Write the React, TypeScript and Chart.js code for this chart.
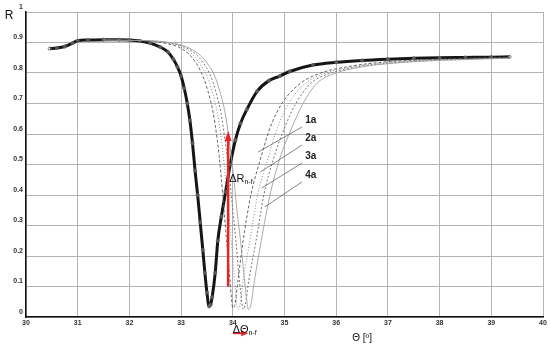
import React, { useEffect, useRef } from "react";
import { Chart, registerables } from "chart.js";

Chart.register(...registerables);

// Main measured curve (theta [deg], R)
const mainTheta = [30.46, 30.6, 30.75, 30.9, 31.0, 31.2, 31.5, 31.8, 32.0, 32.2, 32.4, 32.6, 32.75, 32.85, 32.93, 33.0, 33.06, 33.12, 33.17, 33.22, 33.27, 33.32, 33.37, 33.42, 33.46, 33.5, 33.54, 33.57, 33.6, 33.66, 33.71, 33.78, 33.86, 33.95, 34.05, 34.15, 34.27, 34.47, 34.7, 34.91, 35.1, 35.55, 36.0, 36.5, 37.0, 37.5, 38.0, 38.5, 39.0, 39.35];
const mainR = [0.88, 0.882, 0.887, 0.898, 0.906, 0.908, 0.909, 0.909, 0.908, 0.905, 0.898, 0.885, 0.868, 0.845, 0.82, 0.79, 0.75, 0.7, 0.645, 0.57, 0.48, 0.4, 0.31, 0.22, 0.145, 0.08, 0.035, 0.04, 0.065, 0.145, 0.25, 0.33, 0.41, 0.5, 0.58, 0.635, 0.68, 0.74, 0.775, 0.79, 0.805, 0.826, 0.835, 0.841, 0.845, 0.848, 0.85, 0.851, 0.852, 0.853];

const theta1a = [31.5, 32.0, 32.4, 32.7, 32.95, 33.15, 33.3, 33.42, 33.52, 33.62, 33.7, 33.77, 33.83, 33.88, 33.93, 33.97, 34.0, 34.04, 34.1, 34.2, 34.35, 34.53, 34.72, 34.95, 35.3, 35.7, 36.2, 36.8, 37.5, 38.3, 39.0, 39.35];
const r1a = [0.908, 0.907, 0.904, 0.897, 0.885, 0.862, 0.83, 0.79, 0.74, 0.67, 0.58, 0.47, 0.35, 0.25, 0.15, 0.07, 0.03, 0.04, 0.12, 0.25, 0.4, 0.515, 0.62, 0.7, 0.765, 0.8, 0.82, 0.834, 0.842, 0.847, 0.85, 0.851];

const theta2a = [31.5, 32.0, 32.4, 32.75, 33.0, 33.2, 33.35, 33.5, 33.6, 33.7, 33.78, 33.85, 33.92, 33.97, 34.02, 34.06, 34.1, 34.14, 34.2, 34.33, 34.48, 34.67, 34.86, 35.08, 35.4, 35.8, 36.3, 36.9, 37.6, 38.4, 39.0, 39.35];
const r2a = [0.908, 0.907, 0.905, 0.898, 0.886, 0.864, 0.833, 0.79, 0.74, 0.67, 0.58, 0.47, 0.35, 0.25, 0.15, 0.07, 0.025, 0.04, 0.12, 0.25, 0.4, 0.515, 0.62, 0.7, 0.765, 0.8, 0.82, 0.833, 0.841, 0.846, 0.849, 0.85];

const theta3a = [31.5, 32.0, 32.45, 32.8, 33.05, 33.27, 33.43, 33.57, 33.67, 33.77, 33.85, 33.93, 34.0, 34.06, 34.11, 34.16, 34.2, 34.24, 34.31, 34.45, 34.6, 34.78, 35.0, 35.22, 35.5, 35.9, 36.4, 37.0, 37.7, 38.5, 39.0, 39.35];
const r3a = [0.908, 0.907, 0.905, 0.898, 0.886, 0.864, 0.833, 0.79, 0.74, 0.67, 0.58, 0.47, 0.35, 0.25, 0.15, 0.07, 0.025, 0.04, 0.12, 0.25, 0.4, 0.515, 0.62, 0.7, 0.765, 0.8, 0.82, 0.832, 0.84, 0.845, 0.848, 0.849];

const theta4a = [31.5, 32.0, 32.5, 32.85, 33.1, 33.33, 33.5, 33.65, 33.75, 33.85, 33.93, 34.01, 34.08, 34.15, 34.21, 34.26, 34.3, 34.35, 34.42, 34.55, 34.72, 34.9, 35.14, 35.36, 35.62, 36.0, 36.5, 37.1, 37.8, 38.5, 39.0, 39.35];
const r4a = [0.908, 0.907, 0.905, 0.898, 0.886, 0.864, 0.833, 0.79, 0.74, 0.67, 0.58, 0.47, 0.35, 0.25, 0.15, 0.07, 0.025, 0.04, 0.12, 0.25, 0.4, 0.515, 0.62, 0.7, 0.765, 0.8, 0.82, 0.832, 0.84, 0.844, 0.847, 0.848];

const xTickValues = [30, 31, 32, 33, 34, 35, 36, 37, 38, 39, 40];
const yTickLabels = ["0", "0.1", "0.2", "0.3", "0.4", "0.5", "0.6", "0.7", "0.8", "0.9", "1"];

// Annotations (data coordinates)
const curveLabels = ["1a", "2a", "3a", "4a"];
const curveLabelTheta = [35.4, 35.4, 35.4, 35.4];
const curveLabelR = [0.646, 0.585, 0.526, 0.466];
const leaderFrom = [[35.34, 0.623], [35.34, 0.564], [35.34, 0.505], [35.34, 0.443]];
const leaderTo = [[34.49, 0.541], [34.53, 0.475], [34.56, 0.423], [34.62, 0.361]];
const deltaRArrow = { theta: 33.91, from: 0.1, to: 0.61 };
const deltaRLabel = { theta: 33.93, r: 0.456 };
const deltaThetaArrow = { from: 34.0, to: 34.3, r: -0.053 };
const deltaThetaLabel = { theta: 34.0, r: -0.04 };

const pts = (xs: number[], ys: number[]) => xs.map((x, i) => ({ x, y: ys[i] }));

const annotationPlugin = {
  id: "annot",
  afterDatasetsDraw(chart: any) {
    const ctx = chart.ctx;
    const xs = chart.scales.x;
    const ys = chart.scales.y;
    const X = (v: number) => xs.getPixelForValue(v);
    const Y = (v: number) => ys.getPixelForValue(v);
    ctx.save();
    const red = "#e8242a";

    // leader lines
    ctx.strokeStyle = "#666";
    ctx.lineWidth = 0.8;
    for (let i = 0; i < leaderFrom.length; i++) {
      ctx.beginPath();
      ctx.moveTo(X(leaderFrom[i][0]), Y(leaderFrom[i][1]));
      ctx.lineTo(X(leaderTo[i][0]), Y(leaderTo[i][1]));
      ctx.stroke();
    }
    ctx.fillStyle = "#222";
    ctx.font = "bold 10px 'Liberation Sans', Arial, sans-serif";
    ctx.textBaseline = "middle";
    ctx.textAlign = "left";
    for (let i = 0; i < curveLabels.length; i++) {
      ctx.fillText(curveLabels[i], X(curveLabelTheta[i]), Y(curveLabelR[i]));
    }

    // vertical red arrow
    const ax = X(deltaRArrow.theta);
    const ay0 = Y(deltaRArrow.from);
    const ay1 = Y(deltaRArrow.to);
    ctx.strokeStyle = red;
    ctx.fillStyle = red;
    ctx.lineWidth = 2.5;
    ctx.beginPath();
    ctx.moveTo(ax, ay0);
    ctx.lineTo(ax, ay1 + 8);
    ctx.stroke();
    ctx.beginPath();
    ctx.moveTo(ax, ay1);
    ctx.lineTo(ax - 3.5, ay1 + 10);
    ctx.lineTo(ax + 3.5, ay1 + 10);
    ctx.closePath();
    ctx.fill();

    // horizontal red arrow
    const hx0 = X(deltaThetaArrow.from);
    const hx1 = X(deltaThetaArrow.to);
    const hy = Y(deltaThetaArrow.r);
    ctx.lineWidth = 2;
    ctx.beginPath();
    ctx.moveTo(hx0, hy);
    ctx.lineTo(hx1 - 5, hy);
    ctx.stroke();
    ctx.beginPath();
    ctx.moveTo(hx1, hy);
    ctx.lineTo(hx1 - 7, hy - 3);
    ctx.lineTo(hx1 - 7, hy + 3);
    ctx.closePath();
    ctx.fill();

    // Delta labels
    ctx.fillStyle = "#111";
    ctx.textAlign = "left";
    ctx.textBaseline = "alphabetic";
    const drawSub = (main: string, sub: string, x: number, y: number) => {
      ctx.font = "11px 'Liberation Sans', Arial, sans-serif";
      ctx.fillText(main, x, y);
      const w = ctx.measureText(main).width;
      ctx.font = "7px 'Liberation Sans', Arial, sans-serif";
      ctx.fillText(sub, x + w, y + 2);
    };
    drawSub("ΔR", "n-f", X(deltaRLabel.theta), Y(deltaRLabel.r) + 4);
    drawSub("ΔΘ", "n-f", X(deltaThetaLabel.theta), Y(deltaThetaLabel.r) + 4);

    // axis titles
    const ca = chart.chartArea;
    ctx.font = "12px 'Liberation Sans', Arial, sans-serif";
    ctx.textAlign = "center";
    ctx.textBaseline = "middle";
    ctx.fillText("R", ca.left - 17, ca.top + 4);
    ctx.font = "10px 'Liberation Sans', Arial, sans-serif";
    ctx.fillText("Θ [º]", X(36.5), ca.bottom + 21);
    ctx.restore();
  },
};

export default function App() {
  const ref = useRef<HTMLCanvasElement>(null);
  useEffect(() => {
    if (!ref.current) return;
    const tickFont = { family: "'Liberation Sans', Arial, sans-serif", size: 7, weight: "bold" as const };
    const chart = new Chart(ref.current, {
      type: "scatter",
      data: {
        datasets: [
          {
            label: "4a",
            data: pts(theta4a, r4a),
            showLine: true,
            borderColor: "#a0a0a0",
            borderWidth: 0.9,
            pointRadius: 0,
            cubicInterpolationMode: "monotone",
          },
          {
            label: "3a",
            data: pts(theta3a, r3a),
            showLine: true,
            borderColor: "#666",
            borderWidth: 0.9,
            borderDash: [2, 2],
            pointRadius: 0,
            cubicInterpolationMode: "monotone",
          },
          {
            label: "2a",
            data: pts(theta2a, r2a),
            showLine: true,
            borderColor: "#808080",
            borderWidth: 0.9,
            borderDash: [1, 2],
            pointRadius: 0,
            cubicInterpolationMode: "monotone",
          },
          {
            label: "1a",
            data: pts(theta1a, r1a),
            showLine: true,
            borderColor: "#555",
            borderWidth: 0.9,
            borderDash: [3, 2],
            pointRadius: 0,
            cubicInterpolationMode: "monotone",
          },
          {
            label: "measured",
            data: pts(mainTheta, mainR),
            showLine: true,
            borderColor: "#151515",
            borderWidth: 3,
            pointRadius: 1.6,
            pointBorderWidth: 0.8,
            pointBorderColor: "#555",
            pointBackgroundColor: "rgba(255,255,255,0.3)",
            cubicInterpolationMode: "monotone",
          },
        ] as any,
      },
      options: {
        animation: false,
        responsive: true,
        maintainAspectRatio: false,
        layout: { padding: { top: 12, right: 7, left: 0, bottom: 0 } },
        plugins: { legend: { display: false }, tooltip: { enabled: false } },
        scales: {
          x: {
            type: "linear",
            min: 30,
            max: 40,
            afterBuildTicks: (s: any) => {
              s.ticks = xTickValues.map((v) => ({ value: v }));
            },
            afterFit: (s: any) => {
              s.height = 30;
            },
            ticks: { font: tickFont, color: "#333", padding: 2, maxRotation: 0 },
            grid: { color: "#b4b4b4", lineWidth: 1, drawTicks: false },
            border: { color: "#111", width: 1.5 },
          },
          y: {
            type: "linear",
            min: 0,
            max: 1,
            ticks: {
              stepSize: 0.1,
              font: tickFont,
              color: "#333",
              padding: 3,
              labelOffset: -5,
              callback: (v: any) => yTickLabels[Math.round(Number(v) * 10)] ?? "",
            },
            afterFit: (s: any) => {
              s.width = 26;
            },
            grid: { color: "#b4b4b4", lineWidth: 1, drawTicks: false },
            border: { color: "#111", width: 1.5 },
          },
        },
      } as any,
      plugins: [annotationPlugin],
    });
    return () => chart.destroy();
  }, []);
  return (
    <div style={{ position: "absolute", left: 0, top: 0, width: 550, height: 347, background: "#fff" }}>
      <canvas ref={ref} />
    </div>
  );
}
